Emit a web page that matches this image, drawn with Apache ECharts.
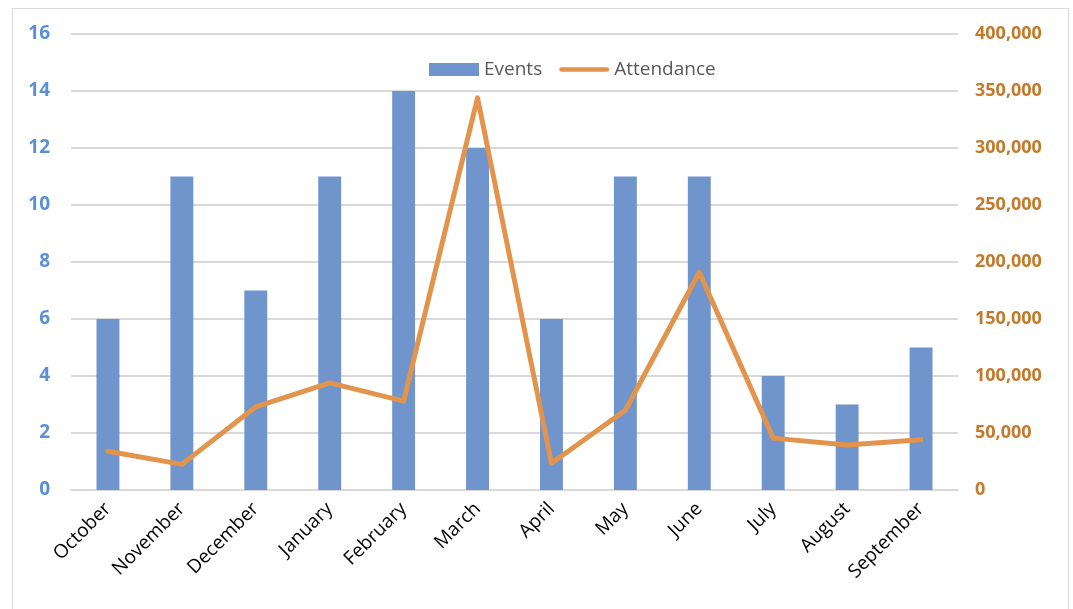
<!DOCTYPE html>
<html><head><meta charset="utf-8">
<script src="https://cdn.jsdelivr.net/npm/echarts@6/dist/echarts.min.js"></script>
<style>html,body{margin:0;padding:0;background:#fff}#c{width:1073px;height:609px}</style>
</head><body><div id="c"></div>
<script>
const categories = ['October','November','December','January','February','March','April','May','June','July','August','September'];
const events = [6, 11, 7, 11, 14, 12, 6, 11, 11, 4, 3, 5];
const attendance = [34000, 22500, 73000, 94000, 78000, 344000, 23500, 70000, 191000, 45500, 39500, 44000];
const leftTicks = [0, 2, 4, 6, 8, 10, 12, 14, 16];
const rightTicks = [0, 50000, 100000, 150000, 200000, 250000, 300000, 350000, 400000];

const chart = echarts.init(document.getElementById('c'), null, {renderer: 'canvas'});
const font = '"Open Sans", "Liberation Sans", sans-serif';
chart.setOption({
  animation: false,
  textStyle: {fontFamily: font},
  graphic: [{type: 'rect', shape: {x: 12.5, y: 8.5, width: 1056, height: 620}, style: {fill: 'none', stroke: '#d9d9d9', lineWidth: 1}, silent: true}],
  legend: {
    top: 55, left: 424, itemGap: 17, itemWidth: 50, itemHeight: 13,
    textStyle: {fontSize: 19, color: '#595959', fontFamily: font, padding: [0, 0, 0, 0]},
    data: [
      {name: 'Events', icon: 'rect'},
      {name: 'Attendance', icon: 'path://M0,0L0.01,0L0.01,0.01Z M2,4.5L54,4.5A2.5,2.5,0,0,1,54,9.5L2,9.5A2.5,2.5,0,0,1,2,4.5Z M0,13.99L0.01,14L0,14Z',
       itemStyle: {color: '#e3944c'}}
    ]
  },
  grid: {left: 71, right: 115, top: 34, bottom: 119, containLabel: false},
  xAxis: {
    type: 'category', data: categories,
    axisLine: {lineStyle: {color: '#d9d9d9', width: 2}},
    axisTick: {show: false},
    axisLabel: {rotate: 45, fontSize: 19, color: '#000', fontFamily: font, margin: 16, interval: 0}
  },
  yAxis: [{
    type: 'value', min: 0, max: 16, interval: 2,
    axisLine: {show: false}, axisTick: {show: false},
    splitLine: {lineStyle: {color: '#d9d9d9', width: 2}},
    axisLabel: {fontSize: 19, fontWeight: 'bold', color: '#5b8fd6', margin: 21, fontFamily: font}
  }, {
    type: 'value', min: 0, max: 400000, interval: 50000, position: 'right',
    axisLine: {show: false}, axisTick: {show: false}, splitLine: {show: false},
    axisLabel: {fontSize: 18, fontWeight: 'bold', color: '#c47a2c', margin: 17, fontFamily: font,
      formatter: v => v.toLocaleString('en-US')}
  }],
  series: [{
    name: 'Events', type: 'bar', data: events, barWidth: '31%',
    itemStyle: {color: '#7094cc'}
  }, {
    name: 'Attendance', type: 'line', yAxisIndex: 1, data: attendance,
    symbol: 'none', lineStyle: {color: '#e3944c', width: 5, cap: 'round', join: 'round'},
    itemStyle: {color: '#e3944c'}
  }]
});
</script></body></html>
